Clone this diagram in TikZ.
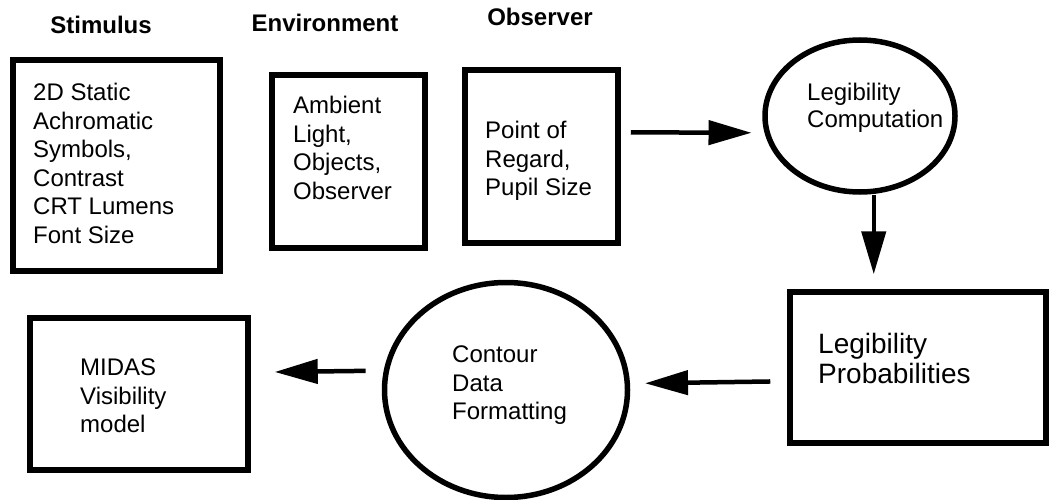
\documentclass[tikz,border=0pt]{standalone}
\usepackage{fontspec}
\setmainfont{Liberation Sans}
\usepackage{tikz}
\usetikzlibrary{arrows.meta,shapes.geometric}

\begin{document}
\begin{tikzpicture}[x=1pt, y=-1pt, >={Triangle[length=43pt,width=24pt]},
    box/.style={draw, line width=5.5pt, rectangle, inner sep=0pt},
    oval/.style={draw, line width=5.5pt, ellipse, inner sep=0pt},
    txt/.style={anchor=north west, inner sep=0pt, align=left, font=\fontsize{24}{28.5}\selectfont},
    heading/.style={inner sep=0pt, font=\bfseries\fontsize{24}{28}\selectfont},
    flow/.style={->, line width=4.5pt}]
    \useasboundingbox (0,0) rectangle (1049,500);

    % Column headings
    \node[heading] (hstim) at (101,25) {Stimulus};
    \node[heading] (henv) at (325,23) {Environment};
    \node[heading] (hobs) at (540,17) {Observer};

    % Boxes and ovals
    \node[box, minimum width=207pt, minimum height=211pt] (stim) at (116.5,165.5) {};
    \node[box, minimum width=153pt, minimum height=173pt] (env) at (348.5,161.5) {};
    \node[box, minimum width=153pt, minimum height=173pt] (obs) at (541.5,156.5) {};
    \node[oval, minimum width=190pt, minimum height=152pt] (comp) at (860,116) {};
    \node[box, minimum width=256pt, minimum height=151pt] (prob) at (918,367.5) {};
    \node[oval, minimum width=243pt, minimum height=215pt] (cont) at (506,390) {};
    \node[box, minimum width=218pt, minimum height=152pt] (midas) at (139,394) {};

    % Texts
    \node[txt] (stimtxt) at (33,83) {2D Static\\Achromatic\\Symbols,\\Contrast\\CRT Lumens\\Font Size};
    \node[txt] (envtxt) at (293,96) {Ambient\\Light,\\Objects,\\Observer};
    \node[txt] (obstxt) at (485,121) {Point of\\Regard,\\Pupil Size};
    \node[txt, font=\fontsize{24}{26.5}\selectfont] (comptxt) at (807,83) {Legibility\\Computation};
    \node[txt, font=\fontsize{28}{30}\selectfont] (probtxt) at (818,333) {Legibility\\Probabilities};
    \node[txt] (conttxt) at (452,346) {Contour\\Data\\Formatting};
    \node[txt] (midastxt) at (80,359) {MIDAS\\Visibility\\model};

    % Flow
    \draw[flow, shorten <=10pt, shorten >=13pt] (obs.17) -- (comp.190);
    \draw[flow, shorten <=1pt, shorten >=15pt] (comp.280) -- (comp.280 |- prob.north);
    \draw[flow, shorten <=17pt, shorten >=15pt] (prob.186) -- (cont.3);
    \draw[flow, shorten <=18pt, shorten >=24pt] (cont.171) -- (midas.11);
\end{tikzpicture}
\end{document}
